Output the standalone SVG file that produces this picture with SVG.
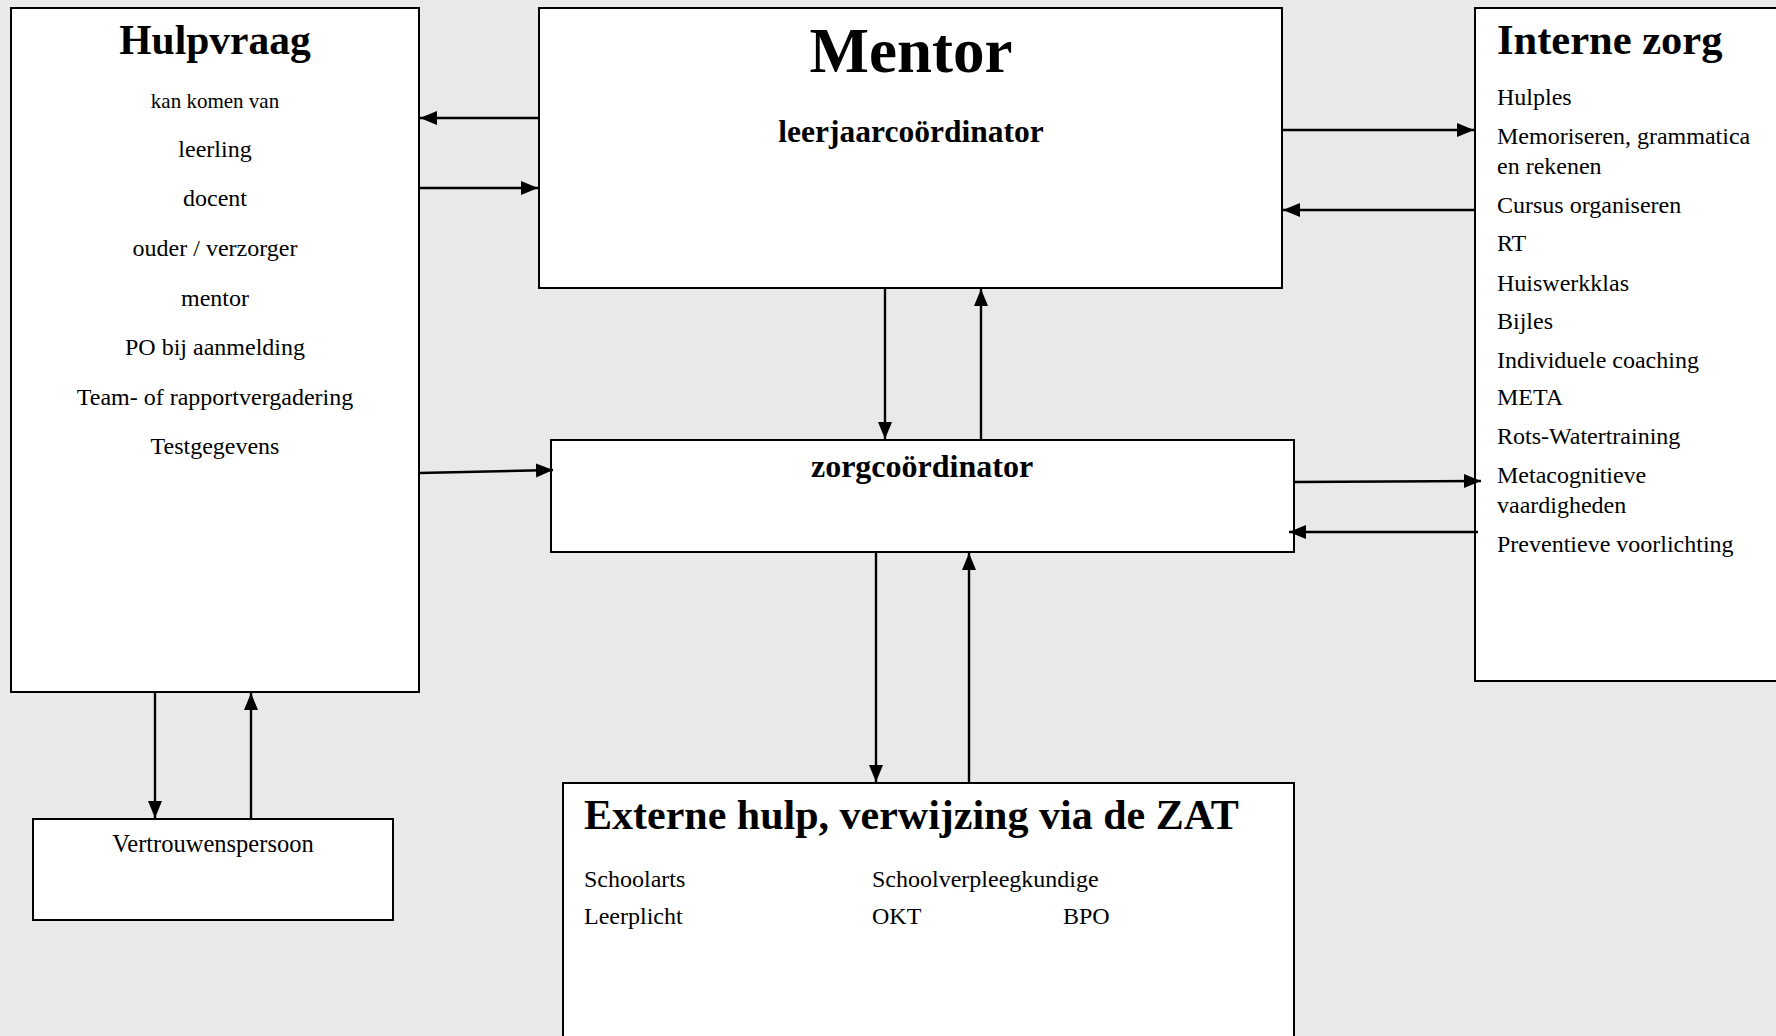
<svg xmlns="http://www.w3.org/2000/svg" width="1776" height="1036" viewBox="0 0 1776 1036">
<defs>
<marker id="arr" markerUnits="userSpaceOnUse" markerWidth="18" markerHeight="15" refX="17" refY="7" orient="auto">
<path d="M0,0 L17,7 L0,14 z" fill="#000"/>
</marker>
<style>
.box{fill:#fff;stroke:#000;stroke-width:2}
.t{font-family:"Liberation Serif","Times New Roman",serif;fill:#000}
.h{font-weight:bold}
.c{text-anchor:middle}
.i{font-size:24px}
.cn{fill:none;stroke:#000;stroke-width:2.4;marker-end:url(#arr)}
</style>
</defs>
<rect width="1776" height="1036" fill="#e9e9e9"/>

<g id="hulpvraag">
<rect class="box" x="11" y="8" width="408" height="684"/>
<text class="t h c" x="215" y="54" font-size="41.5">Hulpvraag</text>
<text class="t c" x="215" y="108" font-size="21">kan komen van</text>
<text class="t c i" x="215" y="157">leerling</text>
<text class="t c i" x="215" y="206">docent</text>
<text class="t c i" x="215" y="256">ouder / verzorger</text>
<text class="t c i" x="215" y="306">mentor</text>
<text class="t c i" x="215" y="355">PO bij aanmelding</text>
<text class="t c i" x="215" y="405">Team- of rapportvergadering</text>
<text class="t c i" x="215" y="454">Testgegevens</text>
</g>

<g id="mentor">
<rect class="box" x="539" y="8" width="743" height="280"/>
<text class="t h c" x="911" y="72" font-size="63">Mentor</text>
<text class="t h c" x="911" y="142" font-size="31.5">leerjaarcoördinator</text>
</g>

<g id="interne-zorg">
<rect class="box" x="1475" y="8" width="320" height="673"/>
<text class="t h" x="1497" y="54" font-size="42.5">Interne zorg</text>
<text class="t i" x="1497" y="105">Hulples</text>
<text class="t i" x="1497" y="144">Memoriseren, grammatica</text>
<text class="t i" x="1497" y="174">en rekenen</text>
<text class="t i" x="1497" y="213">Cursus organiseren</text>
<text class="t i" x="1497" y="251">RT</text>
<text class="t i" x="1497" y="291">Huiswerkklas</text>
<text class="t i" x="1497" y="329">Bijles</text>
<text class="t i" x="1497" y="368">Individuele coaching</text>
<text class="t i" x="1497" y="405">META</text>
<text class="t i" x="1497" y="444">Rots-Watertraining</text>
<text class="t i" x="1497" y="483">Metacognitieve</text>
<text class="t i" x="1497" y="513">vaardigheden</text>
<text class="t i" x="1497" y="552">Preventieve voorlichting</text>
</g>

<g id="zorgcoordinator">
<rect class="box" x="551" y="440" width="743" height="112"/>
<text class="t h c" x="922" y="477" font-size="32">zorgcoördinator</text>
</g>

<g id="externe-hulp">
<rect class="box" x="563" y="783" width="731" height="270"/>
<text class="t h" x="584" y="829" font-size="42">Externe hulp, verwijzing via de ZAT</text>
<text class="t i" x="584" y="887">Schoolarts</text>
<text class="t i" x="872" y="887">Schoolverpleegkundige</text>
<text class="t i" x="584" y="924">Leerplicht</text>
<text class="t i" x="872" y="924">OKT</text>
<text class="t i" x="1063" y="924">BPO</text>
</g>

<g id="vertrouwenspersoon">
<rect class="box" x="33" y="819" width="360" height="101"/>
<text class="t c" x="213" y="852" font-size="24.5">Vertrouwenspersoon</text>
</g>

<g id="connectors">
<line class="cn" x1="539" y1="118" x2="420" y2="118"/>
<line class="cn" x1="419" y1="188" x2="538" y2="188"/>
<line class="cn" x1="419" y1="473" x2="553" y2="470"/>
<line class="cn" x1="155" y1="692" x2="155" y2="818"/>
<line class="cn" x1="251" y1="819" x2="251" y2="693"/>
<line class="cn" x1="885" y1="288" x2="885" y2="439"/>
<line class="cn" x1="981" y1="440" x2="981" y2="289"/>
<line class="cn" x1="876" y1="552" x2="876" y2="782"/>
<line class="cn" x1="969" y1="783" x2="969" y2="553"/>
<line class="cn" x1="1282" y1="130" x2="1474" y2="130"/>
<line class="cn" x1="1475" y1="210" x2="1283" y2="210"/>
<line class="cn" x1="1294" y1="482" x2="1481" y2="481"/>
<line class="cn" x1="1478" y1="532" x2="1289" y2="532"/>
</g>
</svg>
